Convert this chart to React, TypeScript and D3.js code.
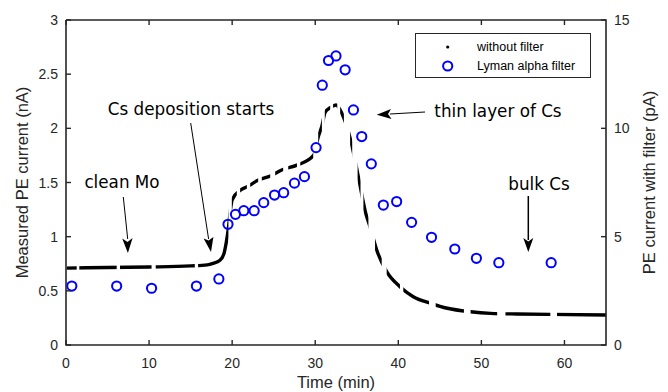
import * as d3 from 'd3';

// "without filter" trace (nA), read at key points
const timeNoFilter = [
  0, 5, 10, 15, 17, 17.7, 18.5, 19.0, 19.3, 19.55, 19.8, 20.0, 21, 21.8, 23.1,
  24.6, 26.1, 27.8, 29.8, 30.36, 30.8, 31.2, 31.8, 32.5, 33.2, 34.3, 35.25,
  36.1, 36.6, 37.4, 38.6, 40.2, 41.8, 43.9, 45.9, 48.7, 51.1, 54.3, 58.3, 65,
];
const currentNoFilter = [
  0.71, 0.715, 0.72, 0.73, 0.74, 0.754, 0.78, 0.84, 0.95, 1.08, 1.25, 1.34,
  1.43, 1.46, 1.52, 1.56, 1.62, 1.66, 1.75, 1.92, 2.02, 2.15, 2.19, 2.215,
  2.14, 1.88, 1.53, 1.21, 1.09, 0.877, 0.677, 0.538, 0.446, 0.385, 0.339,
  0.307, 0.292, 0.286, 0.283, 0.277,
];
// time intervals (min) where the unfiltered current was recorded
const recordedFrom = [
  0.1, 1.6, 6.5, 10.8, 15.9, 19.96, 20.96, 22.17, 23.57, 25.18, 26.75, 28.2,
  30.36, 31.15, 32.15, 33.0, 34.2, 35.1, 35.8, 37.2, 38.6, 40.6, 44.5, 48.7,
  52.9, 59.1,
];
const recordedTo = [
  1.29, 6.1, 10.3, 15.5, 19.55, 20.56, 21.77, 23.13, 24.58, 26.14, 27.8, 29.76,
  30.8, 31.8, 32.65, 33.45, 34.45, 35.45, 36.4, 38.0, 40.2, 43.7, 47.9, 51.9,
  58.3, 65,
];

// "Lyman alpha filter" points (pA)
const timeFilter = [
  0.7, 6.1, 10.3, 15.7, 18.4, 19.5, 20.4, 21.4, 22.65, 23.8, 25.1, 26.2, 27.5,
  28.7, 30.1, 30.85, 31.6, 32.5, 33.6, 34.6, 35.6, 36.75, 38.2, 39.8, 41.6,
  44.0, 46.8, 49.4, 52.1, 58.4,
];
const currentFilter = [
  2.72, 2.72, 2.62, 2.72, 3.05, 5.57, 6.03, 6.2, 6.2, 6.57, 6.92, 7.03, 7.47,
  7.77, 9.11, 11.99, 13.13, 13.34, 12.7, 10.85, 9.62, 8.36, 6.46, 6.62, 5.66,
  4.97, 4.43, 4.0, 3.8, 3.8,
];

const xTicks = [0, 10, 20, 30, 40, 50, 60];
const yLeftTicks = [0, 0.5, 1, 1.5, 2, 2.5, 3];
const yRightTicks = [0, 5, 10, 15];

const W = 668;
const H = 392;
const margin = { left: 66, right: 62, top: 20, bottom: 47 };
const ink = '#262626';
const tickFont = '"Liberation Sans", Arial, sans-serif';
const noteFont = '"DejaVu Sans", Verdana, sans-serif';

export default function App() {
  const x = d3.scaleLinear().domain([0, 65]).range([margin.left, W - margin.right]);
  const yL = d3.scaleLinear().domain([0, 3]).range([H - margin.bottom, margin.top]);
  const yR = d3.scaleLinear().domain([0, 15]).range([H - margin.bottom, margin.top]);

  const pts = timeNoFilter.map((t, i) => [t, currentNoFilter[i]] as [number, number]);
  const line = d3
    .line<[number, number]>()
    .x((d) => x(d[0]))
    .y((d) => yL(d[1]))
    .curve(d3.curveMonotoneX);

  const x0 = x(0);
  const x1 = x(65);
  const y0 = yL(0);
  const y1 = yL(3);

  return (
    <svg
      width={W}
      height={H}
      style={{ position: 'absolute', left: 0, top: 0, background: '#fff' }}
    >
      <defs>
        <clipPath id='recorded'>
          {recordedFrom.map((a, i) => (
            <rect key={i} x={x(a)} y={0} width={x(recordedTo[i]) - x(a)} height={H} />
          ))}
        </clipPath>
      </defs>

      {/* trace without filter */}
      <path
        d={line(pts) ?? ''}
        fill='none'
        stroke='#000'
        strokeWidth={3.4}
        clipPath='url(#recorded)'
      />

      {/* Lyman alpha filter points */}
      {timeFilter.map((t, i) => (
        <circle
          key={i}
          cx={x(t)}
          cy={yR(currentFilter[i])}
          r={4.6}
          fill='none'
          stroke='#0000ff'
          strokeWidth={2}
        />
      ))}

      {/* axes box */}
      <path
        d={`M${x0},${y1}V${y0}H${x1}V${y1}H${x0}`}
        fill='none'
        stroke={ink}
        strokeWidth={1.6}
      />
      {xTicks.map((t) => (
        <g key={t}>
          <line x1={x(t)} x2={x(t)} y1={y0} y2={y0 - 5} stroke={ink} strokeWidth={1.4} />
          <line x1={x(t)} x2={x(t)} y1={y1} y2={y1 + 5} stroke={ink} strokeWidth={1.4} />
          <text
            x={x(t)}
            y={y0 + 23}
            textAnchor='middle'
            fontFamily={tickFont}
            fontSize={14}
            fill={ink}
          >
            {t}
          </text>
        </g>
      ))}
      {yLeftTicks.map((t) => (
        <g key={t}>
          <line x1={x0} x2={x0 + 5} y1={yL(t)} y2={yL(t)} stroke={ink} strokeWidth={1.4} />
          <text
            x={x0 - 8}
            y={yL(t) + 5}
            textAnchor='end'
            fontFamily={tickFont}
            fontSize={14}
            fill={ink}
          >
            {t}
          </text>
        </g>
      ))}
      {yRightTicks.map((t) => (
        <g key={t}>
          <line x1={x1} x2={x1 - 5} y1={yR(t)} y2={yR(t)} stroke={ink} strokeWidth={1.4} />
          <text
            x={x1 + 8}
            y={yR(t) + 5}
            textAnchor='start'
            fontFamily={tickFont}
            fontSize={14}
            fill={ink}
          >
            {t}
          </text>
        </g>
      ))}

      {/* axis labels */}
      <text
        x={(x0 + x1) / 2}
        y={388}
        textAnchor='middle'
        fontFamily={tickFont}
        fontSize={16.5}
        fill={ink}
      >
        Time (min)
      </text>
      <text
        transform={`translate(28,${(y0 + y1) / 2}) rotate(-90)`}
        textAnchor='middle'
        fontFamily={tickFont}
        fontSize={16.5}
        fill={ink}
      >
        Measured PE current (nA)
      </text>
      <text
        transform={`translate(655,${(y0 + y1) / 2}) rotate(-90)`}
        textAnchor='middle'
        fontFamily={tickFont}
        fontSize={16.5}
        fill={ink}
      >
        PE current with filter (pA)
      </text>

      {/* legend */}
      <rect x={415.5} y={33.5} width={175} height={44} fill='#fff' stroke={ink} strokeWidth={1} />
      <circle cx={447.7} cy={47} r={1.6} fill='#000' />
      <circle cx={447.7} cy={66} r={4.6} fill='none' stroke='#0000ff' strokeWidth={2} />
      <text x={477} y={51} fontFamily={tickFont} fontSize={12.5} fill='#000'>
        without filter
      </text>
      <text x={477} y={70} fontFamily={tickFont} fontSize={12.5} fill='#000'>
        Lyman alpha filter
      </text>

      {/* annotations */}
      <g fontFamily={noteFont} fontSize={16.8} fill='#000'>
        <text x={122} y={187.5} textAnchor='middle'>clean Mo</text>
        <text x={191} y={114.5} textAnchor='middle'>Cs deposition starts</text>
        <text x={498} y={116.5} textAnchor='middle'>thin layer of Cs</text>
        <text x={539} y={189.5} textAnchor='middle'>bulk Cs</text>
      </g>
      <line x1={123.3} y1={197} x2={127.7} y2={239} stroke='#000' strokeWidth={1} />
      <path d='M122.2,238.5 L127.9,253 L132.6,237.9 L127.5,242 Z' fill='#000' />
      <line x1={190.7} y1={123} x2={208.6} y2={239} stroke='#000' strokeWidth={1} />
      <path d='M203.6,238.6 L211,252 L213.4,237 L208.6,240.5 Z' fill='#000' />
      <line x1={425} y1={112} x2={390} y2={114} stroke='#000' strokeWidth={1} />
      <path d='M391,109 L376.7,114.8 L391.5,119 L388,114 Z' fill='#000' />
      <line x1={528.3} y1={196} x2={528.3} y2={240} stroke='#000' strokeWidth={1.5} />
      <path d='M523.3,238 L528.3,252 L533.3,238 L528.3,241.5 Z' fill='#000' />
    </svg>
  );
}
